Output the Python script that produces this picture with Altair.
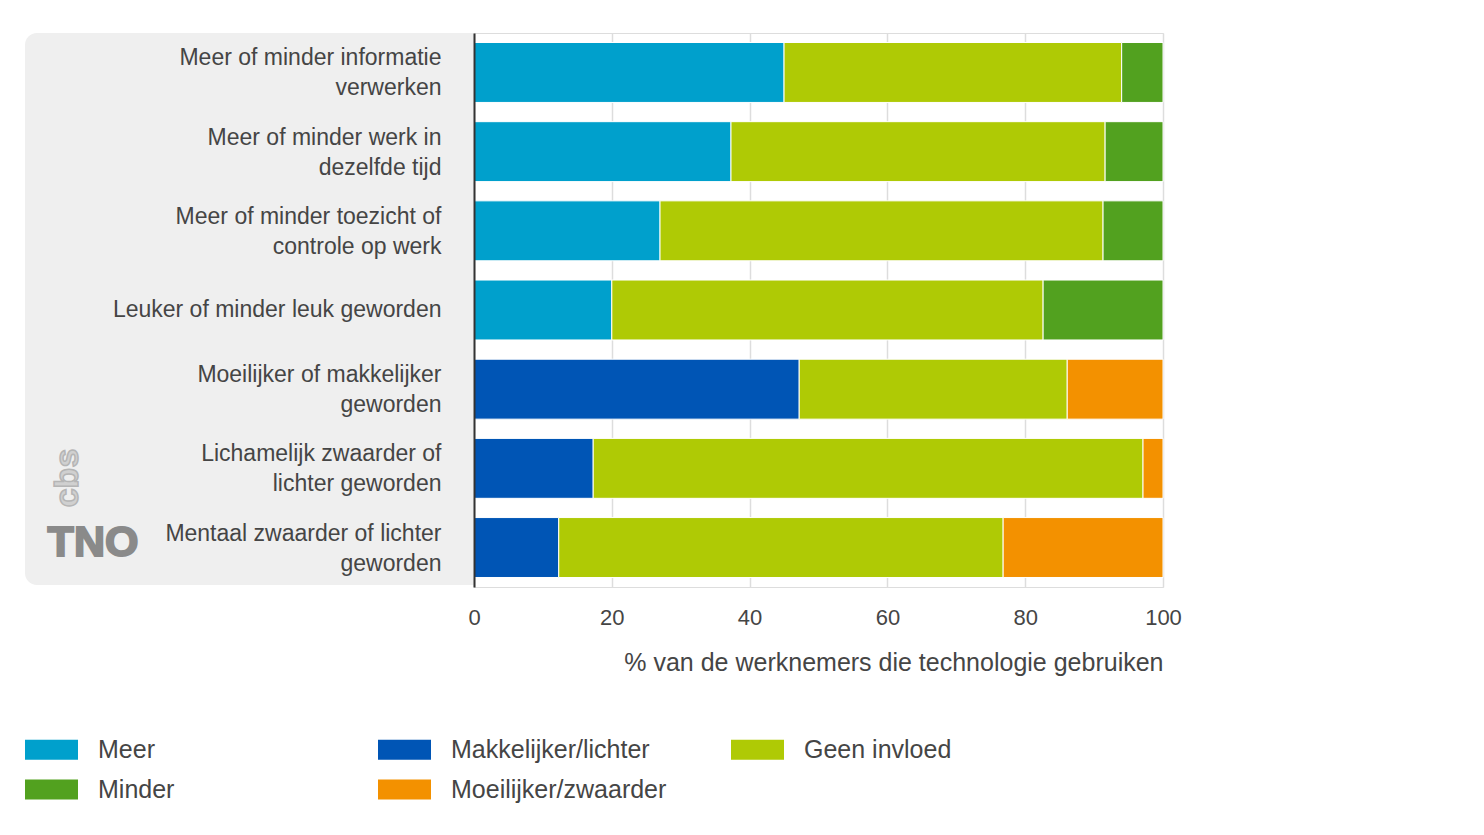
import altair as alt
import pandas as pd

# ---- data ----
categories = [
    "Meer of minder informatie|verwerken",
    "Meer of minder werk in|dezelfde tijd",
    "Meer of minder toezicht of|controle op werk",
    "Leuker of minder leuk geworden",
    "Moeilijker of makkelijker|geworden",
    "Lichamelijk zwaarder of|lichter geworden",
    "Mentaal zwaarder of lichter|geworden",
]
left_series = ["Meer", "Meer", "Meer", "Meer",
               "Makkelijker/lichter", "Makkelijker/lichter", "Makkelijker/lichter"]
left_values = [45.0, 37.3, 27.0, 20.0, 47.2, 17.3, 12.3]
neutral_values = [49.0, 54.3, 64.3, 62.6, 38.9, 79.8, 64.5]
right_series = ["Minder", "Minder", "Minder", "Minder",
                "Moeilijker/zwaarder", "Moeilijker/zwaarder", "Moeilijker/zwaarder"]
right_values = [6.0, 8.4, 8.7, 17.4, 13.9, 2.9, 23.2]

series_order = ["Meer", "Makkelijker/lichter", "Geen invloed", "Minder", "Moeilijker/zwaarder"]
series_colors = ["#00a0cc", "#0055b5", "#afca05", "#52a11f", "#f39100"]
x_ticks = [0, 20, 40, 60, 80, 100]
x_title = "% van de werknemers die technologie gebruiken"

rows = []
for i, c in enumerate(categories):
    rows.append({"cat": c, "series": left_series[i], "value": left_values[i], "pos": 0})
    rows.append({"cat": c, "series": "Geen invloed", "value": neutral_values[i], "pos": 1})
    rows.append({"cat": c, "series": right_series[i], "value": right_values[i], "pos": 2})
df = pd.DataFrame(rows)

FONT = "Liberation Sans"
TXT = "#454545"

one = alt.Data(values=[{}])

panel = alt.Chart(one).mark_rect(
    color="#efefef", cornerRadiusTopLeft=12, cornerRadiusBottomLeft=12
).encode(
    x=alt.value(-449), x2=alt.value(0), y=alt.value(0), y2=alt.value(552)
)

tno = alt.Chart(one).mark_text(
    text="TNO", font=FONT, fontSize=43, fontWeight="bold", color="#8a8a8a",
    stroke="#8a8a8a", strokeWidth=2, align="center", baseline="middle"
).encode(x=alt.value(-381), y=alt.value(510))

cbs = alt.Chart(one).mark_text(
    text="cbs", font=FONT, fontSize=34, fontWeight="bold", color="#d0d0d0",
    stroke="#b5b5b5", strokeWidth=1.5, angle=270,
    align="center", baseline="middle"
).encode(x=alt.value(-406), y=alt.value(445))

bars = alt.Chart(df).mark_bar(stroke="white", strokeWidth=1).encode(
    y=alt.Y(
        "cat:N", sort=categories, title=None,
        scale=alt.Scale(paddingInner=0.243, paddingOuter=0.12),
        axis=alt.Axis(
            labelExpr="split(datum.value, '|')", labelFont=FONT, labelFontSize=23,
            labelColor=TXT, labelLineHeight=30, labelPadding=33, labelLimit=420,
            labelOffset={"condition": {"test": "indexof(datum.value, '|') >= 0", "value": -14},
                         "value": 0},
            ticks=False, domainColor="#333333", domainWidth=2, grid=False,
            zindex=2,
        ),
    ),
    x=alt.X(
        "value:Q", stack="zero", title=x_title,
        scale=alt.Scale(domain=[0, 100], nice=False),
        axis=alt.Axis(
            values=x_ticks, labelFont=FONT, labelFontSize=22, labelColor=TXT,
            labelPadding=20, labelFlush=False, ticks=False, domain=False, grid=True,
            gridColor="#dddddd", gridWidth=1.5,
            titleFont=FONT, titleFontSize=25, titleFontWeight="normal",
            titleColor=TXT, titleAnchor="end", titlePadding=22,
        ),
    ),
    color=alt.Color(
        "series:N",
        scale=alt.Scale(domain=series_order, range=series_colors),
        legend=alt.Legend(
            title=None, orient="none", legendX=-449, legendY=690, columns=3,
            gridAlign="all", direction="horizontal", padding=0,
            symbolType="M-1,-0.38H1V0.38H-1Z", symbolSize=2809,
            symbolStrokeWidth=0, symbolOpacity=1,
            labelFont=FONT, labelFontSize=25, labelColor=TXT, labelOffset=20,
            labelLimit=400, rowPadding=-6, columnPadding=64,
        ),
    ),
    order=alt.Order("pos:Q"),
)

chart = alt.layer(panel, cbs, tno, bars).properties(
    width=689, height=554,
    autosize=alt.AutoSizeParams(type="none"),
    padding={"left": 466, "top": 25, "right": 300, "bottom": 220},
).configure_view(stroke=None).configure(font=FONT)

chart.save("out.html", embed_options={"renderer": "svg", "actions": False})
